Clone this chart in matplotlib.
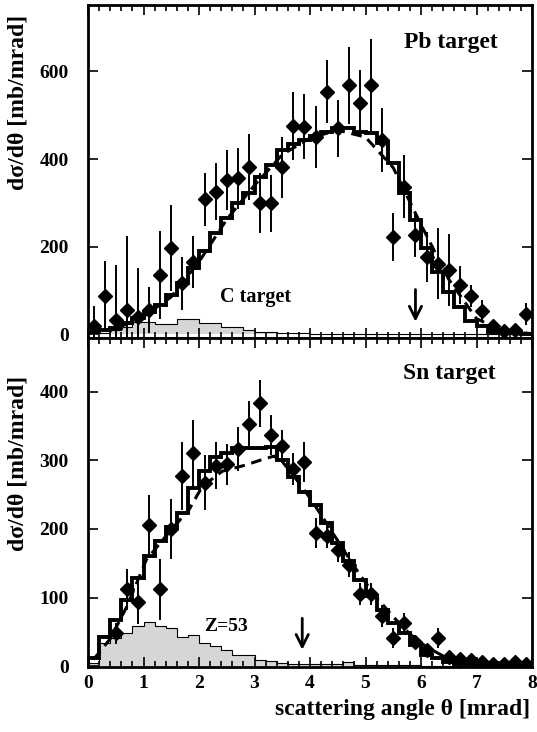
import numpy as np
import matplotlib
matplotlib.use("Agg")
import matplotlib.pyplot as plt
from matplotlib.ticker import MultipleLocator

plt.rcParams['font.family'] = ['Liberation Serif', 'DejaVu Serif']
plt.rcParams['font.weight'] = 'bold'

# ---------------- data ----------------
bin_width = 0.2
theta_pts = np.round(np.arange(0.1, 8.0, bin_width), 1)   # bin centres

# Pb target: data points (40 bins)
pb_val = [18, 87, 32, 55, 40, 55, 135, 197, 116, 165,
          308, 325, 352, 356, 382, 299, 299, 381, 475, 474,
          450, 554, 470, 569, 529, 569, 443, 221, 337, 226,
          177, 161, 146, 112, 87, 53, 19, 7, 9, 46]
pb_err = [45, 80, 125, 170, 110, 52, 100, 98, 60, 60,
          60, 65, 68, 70, 75, 68, 65, 70, 77, 74,
          70, 72, 65, 88, 75, 105, 73, 55, 72, 49,
          57, 82, 82, 44, 25, 25, 10, 5, 5, 25]
# Pb target: simulation histogram
pb_model = [4, 9, 14, 25, 37, 51, 66, 89, 116, 150,
            190, 232, 265, 300, 322, 358, 386, 420, 434, 443,
            453, 462, 470, 470, 462, 459, 436, 390, 322, 260,
            196, 142, 97, 62, 30, 19, 5, 3, 2, 1]
# C target histogram (shaded)
c_model = [2, 2, 9, 17, 28, 28, 23, 23, 34, 34,
           26, 26, 17, 17, 9, 5, 5, 3, 3, 2,
           1, 1, 1, 1, 1, 1, 1, 1, 1, 1,
           0.5, 0.5, 0.5, 0.5, 0.5, 0.5, 0.5, 0.5, 0.5, 0.5]
# Pb dashed calculation
pb_calc_theta = [0.0, 0.5, 1.0, 1.5, 2.0, 2.5, 3.0, 3.5, 4.0, 4.5,
                 5.0, 5.5, 6.0, 6.5, 7.0, 7.5, 8.0]
pb_calc_val = [2, 12, 40, 85, 165, 262, 340, 410, 448, 466,
               450, 380, 250, 125, 35, 6, 1]

# Sn target: data points (from 0.5 mrad)
sn_theta = theta_pts[2:]
sn_val = [48, 112, 94, 206, 112, 200, 277, 310, 267, 292,
          294, 316, 353, 383, 337, 320, 287, 298, 194, 190,
          169, 148, 105, 105, 73, 41, 63, 36, 24, 41,
          13, 10, 9, 6, 3, 4, 6, 4]
sn_err = [15, 30, 32, 44, 44, 44, 50, 49, 40, 34,
          30, 32, 33, 34, 29, 24, 23, 29, 22, 18,
          17, 18, 16, 16, 16, 15, 15, 10, 8, 15,
          5, 4, 4, 3, 2, 2, 3, 2]
sn_model = [12, 43, 68, 97, 128, 160, 182, 203, 223, 259,
            284, 305, 310, 318, 318, 318, 319, 300, 276, 254,
            235, 209, 180, 153, 126, 102, 82, 63, 48, 31,
            17, 12, 7, 4, 3, 2, 1.5, 1, 1, 1]
# Z=53 histogram (shaded)
z53_model = [5, 34, 41, 48, 58, 65, 58, 56, 43, 45,
             34, 29, 24, 17, 17, 9, 8, 5, 4, 4,
             3, 3, 3, 6, 2, 2, 2, 2, 2, 2,
             1, 1, 1, 1, 1, 1, 1, 1, 1, 1]
sn_calc_theta = [0.1, 0.4, 0.7, 1.05, 1.47, 1.82, 2.06, 2.42, 2.84, 3.1,
                 3.35, 3.5, 3.7, 4.0, 4.3, 4.6, 4.9, 5.2, 5.5, 5.8,
                 6.1, 6.4, 6.7, 7.0, 7.5, 8.0]
sn_calc_val = [10, 40, 87, 155, 196, 228, 262, 284, 293, 300,
               306, 298, 278, 245, 208, 170, 133, 100, 72, 47,
               28, 15, 8, 4, 2, 1]

edges = np.round(np.arange(0, 8.0 + bin_width / 2, bin_width), 1)

fig = plt.figure(figsize=(5.37, 7.32), dpi=100)
ax1 = fig.add_axes([0.1639, 0.5383, 0.8268, 0.4549])
ax2 = fig.add_axes([0.1639, 0.0888, 0.8268, 0.4495])


def style(ax, ymax, ymin, ystep):
    ax.set_xlim(0, 8)
    ax.set_ylim(ymin, ymax)
    ax.xaxis.set_major_locator(MultipleLocator(1))
    ax.xaxis.set_minor_locator(MultipleLocator(0.2))
    ax.yaxis.set_major_locator(MultipleLocator(ystep))
    ax.tick_params(which='both', direction='in', top=True, right=True,
                   labelsize=14, width=1.2)
    ax.tick_params(which='major', length=7)
    ax.tick_params(which='minor', length=4)
    ax.tick_params(axis='y', pad=14)
    ax.tick_params(axis='x', pad=6)
    for s in ax.spines.values():
        s.set_linewidth(2)


def draw(ax, model, shade, calc_t, calc_v, th, val, err):
    ax.stairs(shade, edges, fill=True, color='#d6d6d6', zorder=1)
    ax.stairs(shade, edges, color='black', lw=0.8, zorder=2)
    ax.stairs(model, edges, color='black', lw=2.8, zorder=3)
    ax.plot(calc_t, calc_v, color='black', lw=2.2, ls=(0, (3.5, 2.2)), zorder=4)
    ax.errorbar(th, val, yerr=err, fmt='D', color='black', ms=7,
                elinewidth=1.4, capsize=0, zorder=5)


draw(ax1, pb_model, c_model, pb_calc_theta, pb_calc_val, theta_pts, pb_val, pb_err)
draw(ax2, sn_model, z53_model, sn_calc_theta, sn_calc_val, sn_theta, sn_val, sn_err)

style(ax1, 752, -9, 200)
style(ax2, 478, -1, 100)
ax1.set_yticks([0, 200, 400, 600])
ax2.set_yticks([0, 100, 200, 300, 400])
ax1.tick_params(labelbottom=False)

ax1.annotate('', xy=(5.9, 22), xytext=(5.9, 108),
             arrowprops=dict(arrowstyle='->', lw=2, color='black', mutation_scale=22))
ax2.annotate('', xy=(3.86, 20), xytext=(3.86, 74),
             arrowprops=dict(arrowstyle='->', lw=2, color='black', mutation_scale=22))

ax1.text(0.817, 0.886, 'Pb target', transform=ax1.transAxes, fontsize=17,
         fontweight='bold', ha='center', va='center')
ax1.text(3.01, 85, 'C target', fontsize=14.5, fontweight='bold',
         ha='center', va='center')
ax2.text(0.814, 0.893, 'Sn target', transform=ax2.transAxes, fontsize=17,
         fontweight='bold', ha='center', va='center')
ax2.text(2.48, 58, 'Z=53', fontsize=14, fontweight='bold',
         ha='center', va='center')

fig.text(18 / 537, 1 - 102 / 732, 'dσ/dθ [mb/mrad]', rotation=90, fontsize=17,
         fontweight='bold', ha='center', va='center')
fig.text(18 / 537, 1 - 463 / 732, 'dσ/dθ [mb/mrad]', rotation=90, fontsize=17,
         fontweight='bold', ha='center', va='center')
fig.text(530 / 537, 1 - 710 / 732, 'scattering angle θ [mrad]', fontsize=17,
         fontweight='bold', ha='right', va='center')

fig.savefig('out.png', dpi=100)
